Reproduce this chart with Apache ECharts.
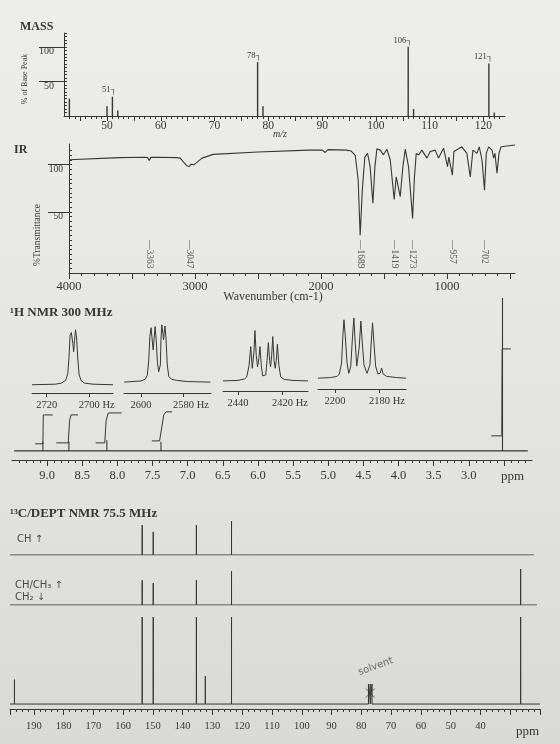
<!DOCTYPE html>
<html>
<head>
<meta charset="utf-8">
<script src="https://cdn.jsdelivr.net/npm/echarts@6.0.0/dist/echarts.min.js"></script>
<style>
html, body { margin: 0; padding: 0; }
body { background: linear-gradient(to bottom, #ededeb 0%, #e5e5e3 50%, #d9d9d6 100%); }
#main { width: 560px; height: 744px; }
</style>
</head>
<body>
<div id="main"></div>
<script>
// ---- MASS ----
var massMz = [43, 50, 51, 52, 78, 79, 106, 107, 121, 122];
var massPct = [25, 14, 28, 8, 78, 14, 100, 10, 76, 5];
var massLabeled = [51, 78, 106, 121];
var massTickLabels = [50, 60, 70, 80, 90, 100, 110, 120];
var pctTickLabels = [50, 100];

// ---- IR ----
var irWave = [4000,3600,3400,3375,3363,3350,3300,3150,3118,3085,3065,3047,3030,3010,2990,2944,2856,2500,2100,1990,
  1967,1945,1800,1760,1728,1705,1689,1672,1652,1630,1610,1588,1572,1556,1530,1504,1477,1450,1419,1403,
  1371,1350,1331,1305,1273,1258,1244,1225,1199,1159,1133,1093,1067,1027,996,985,957,945,882,842,
  815,794,762,744,722,702,688,669,642,630,619,603,587,571,460];
var irTrans = [105.2,107.5,108,107.5,104.5,107.8,108,107.5,107,102,99,98,100.5,100,102,107,111,113.5,115.5,115.5,
  113,116,115.5,114.5,110,84,25,73,108,112,98,59,98,117,115.5,110.5,116.5,105,63,87,
  66,98,116.5,98,43,87,112,110.5,115.5,107,114,115.5,107,117.5,98,108,89,114,119,112,
  87,115.5,112,119,105,73,112,119,115.5,107,112,91,112,119,121];
var irPeakLabels = [3363, 3047, 1689, 1419, 1273, 957, 702];
var irTickLabels = [4000, 3000, 2000, 1000];
var transTickLabels = [50, 100];

// ---- 1H expansions (Hz, relative intensity) ----
var ins1Hz = [2727,2716,2713,2711,2710,2709.4,2708.9,2708.3,2707.6,2707.2,2706.8,2706.3,2705.8,2705.2,2704.6,2703.6,2702,2698,2688.5];
var ins1I  = [0,0.01,0.03,0.08,0.2,0.5,0.9,0.95,0.75,0.6,0.8,1.0,0.85,0.45,0.18,0.07,0.03,0.01,0];
var ins2Hz = [2608,2600,2598,2597,2596.3,2595.8,2595.2,2594.6,2594.2,2593.8,2593.3,2592.8,2592.2,2591.6,2591.2,
  2590.8,2590.5,2590.1,2589.6,2589.3,2589.0,2588.6,2588.1,2587.5,2586.8,2585.5,2583,2578,2567];
var ins2I  = [0,0.02,0.05,0.12,0.4,0.8,0.95,0.7,0.56,0.75,0.97,0.75,0.35,0.18,0.16,
  0.3,0.75,1.0,0.85,0.74,0.85,0.98,0.75,0.3,0.1,0.05,0.03,0.01,0];
var ins3Hz = [2446.8,2440,2437,2436,2435,2434.2,2433.5,2433.1,2432.7,2432.3,2431.7,2431.1,2430.5,2430.0,2429.4,
  2428.8,2428.1,2427.4,2426.8,2426.2,2425.6,2425.2,2424.7,2424.2,2423.6,2423.1,2422.6,2422.1,2421.4,2420.6,2419,2415,2408.2];
var ins3I  = [0,0.01,0.04,0.08,0.3,0.68,0.25,0.22,0.6,1.0,0.5,0.28,0.45,0.68,0.3,
  0.1,0.07,0.12,0.4,0.76,0.4,0.28,0.5,0.88,0.4,0.25,0.4,0.73,0.3,0.08,0.03,0.01,0];
var ins4Hz = [2207.7,2202,2199,2198,2197,2196.4,2195.9,2195.3,2194.5,2193.7,2192.8,2192,2191.4,2190.8,2190.1,
  2189.6,2189,2188.2,2187.6,2186.8,2185.4,2184.1,2183.5,2182.9,2182.3,2181.5,2180.5,2179.5,2178.8,2178.1,2176.5,2172,2167.7];
var ins4I  = [0,0.01,0.03,0.07,0.25,0.7,0.97,0.7,0.25,0.08,0.2,0.7,1.0,0.6,0.2,
  0.17,0.5,0.95,0.6,0.22,0.08,0.22,0.6,0.92,0.6,0.2,0.07,0.08,0.17,0.07,0.03,0.01,0];
var insetTicks = [[2720, 2700], [2600, 2580], [2440, 2420], [2200, 2180]];

// ---- 1H spectrum (ppm) ----
var hShift = [9.06, 8.69, 8.15, 7.38, 2.52];
var hHeight = [6, 6, 7, 6, 100];
var hInt1 = [[9.17,4.6],[9.06,4.6],[9.055,23.5],[8.92,23.5]];
var hInt2 = [[8.87,5.2],[8.70,5.2],[8.68,20],[8.66,23.5],[8.56,23.5]];
var hInt3 = [[8.31,5.2],[8.18,5.2],[8.16,20],[8.13,24.8],[7.94,24.8]];
var hInt4 = [[7.51,6.5],[7.40,6.5],[7.37,15],[7.34,23.5],[7.31,25.5],[7.22,25.5]];
var hInt5 = [[2.68,9.8],[2.53,9.8],[2.525,66.7],[2.40,66.7]];
var ppmTickLabels = [9.0, 8.5, 8.0, 7.5, 7.0, 6.5, 6.0, 5.5, 5.0, 4.5, 4.0, 3.5, 3.0];

// ---- 13C / DEPT (ppm) ----
var dept90Shift = [153.6, 149.9, 135.4, 123.6];
var dept90Height = [0.88, 0.68, 0.88, 1.0];
var dept135Shift = [153.6, 149.9, 135.4, 123.6, 26.5];
var dept135Height = [0.69, 0.61, 0.69, 0.94, 1.0];
var cShift = [196.5, 153.6, 149.9, 135.4, 132.4, 123.6, 26.5];
var cHeight = [0.28, 1, 1, 1, 0.32, 1, 1];
var solventShift = [77.6, 77.0, 76.4];
var solventHeight = [0.23, 0.23, 0.23];

var ink = '#363636';
var serif = '"Liberation Serif", "DejaVu Serif", serif';
var hand = '"DejaVu Sans", sans-serif';

function range(a, b, step) {
  var out = [];
  for (var v = a; v <= b + step / 2; v += step) out.push(Math.round(v * 1000) / 1000);
  return out;
}
function pairs(xs, ys) {
  return xs.map(function (x, i) { return [x, ys[i]]; });
}
// stick spectrum: baseline with a vertical line at every shift
function sticks(start, end, shifts, heights) {
  var idx = shifts.map(function (s, i) { return i; });
  idx.sort(function (a, b) { return shifts[b] - shifts[a]; });
  var pts = [[start, 0]];
  idx.forEach(function (i) {
    pts.push([shifts[i], 0], [shifts[i], heights[i]], [shifts[i], 0]);
  });
  pts.push([end, 0]);
  return pts;
}
var line = { color: ink, width: 1 };
function axis(o) {
  return Object.assign({
    type: 'value', splitLine: { show: false }, axisLine: { show: false, onZero: false },
    axisTick: { show: false }, axisLabel: { show: false }
  }, o);
}
var shownLine = { show: true, onZero: false, lineStyle: line };
function lbl(size, extra) {
  return Object.assign({ show: true, color: ink, fontFamily: serif, fontSize: size,
    formatter: function (v) { return String(v); } }, extra || {});
}
function ppmName(gap, pad) {
  return { name: 'ppm', nameLocation: 'start', nameGap: gap,
    nameTextStyle: { color: ink, fontFamily: serif, fontSize: 13, align: 'right', verticalAlign: 'top', padding: [pad, 0, 0, 0] } };
}

var insetGrids = [
  { left: 32, top: 327, width: 81, height: 66 },
  { left: 124, top: 322, width: 87, height: 71 },
  { left: 223, top: 328, width: 85, height: 63 },
  { left: 318, top: 315, width: 88, height: 74 }
];
var insetRanges = [[2688.5, 2727], [2566.7, 2608.1], [2408.2, 2446.8], [2167.7, 2207.7]];
var insetYMin = [-0.15, -0.19, -0.2, -0.18];
var insetData = [pairs(ins1Hz, ins1I), pairs(ins2Hz, ins2I), pairs(ins3Hz, ins3I), pairs(ins4Hz, ins4I)];

var grids = [
  { left: 64, top: 33, width: 441, height: 83 },     // mass
  { left: 69, top: 144, width: 446, height: 129 }    // IR
].concat(insetGrids).concat([
  { left: 12, top: 298, width: 520, height: 162 },   // 1H
  { left: 10, top: 521, width: 530, height: 34 },    // DEPT-90
  { left: 10, top: 569, width: 530, height: 36 },    // DEPT-135
  { left: 10, top: 617, width: 530, height: 92 }     // 13C
]);

var xAxes = [
  axis({ gridIndex: 0, position: 'bottom', min: 42, max: 124, axisLine: shownLine,
    axisTick: { show: true, customValues: range(45, 120, 5), length: 5, lineStyle: line },
    axisLabel: lbl(11.5, { customValues: massTickLabels, margin: 4 }) }),
  axis({ gridIndex: 0, position: 'bottom', min: 42, max: 124,
    axisTick: { show: true, customValues: range(43, 123, 1), length: 3, lineStyle: line } }),
  axis({ gridIndex: 1, position: 'bottom', min: 460, max: 4000, inverse: true, axisLine: shownLine,
    axisTick: { show: true, customValues: range(500, 4000, 500), length: 6, lineStyle: line },
    axisLabel: lbl(12.5, { customValues: irTickLabels, margin: 7 }) }),
  axis({ gridIndex: 1, position: 'bottom', min: 460, max: 4000, inverse: true,
    axisTick: { show: true, customValues: range(500, 3900, 100), length: 3, lineStyle: line } })
];
insetTicks.forEach(function (t, k) {
  xAxes.push(axis({ gridIndex: 2 + k, position: 'bottom', min: insetRanges[k][0], max: insetRanges[k][1], inverse: true,
    axisLine: shownLine,
    axisTick: { show: true, customValues: t, length: 4, lineStyle: line },
    axisLabel: lbl(10.5, { customValues: t, margin: 7,
      formatter: function (v) { return v === t[1] ? '{h|' + v + ' Hz}' : String(v); },
      rich: { h: { fontSize: 10.5, fontFamily: serif, color: ink, padding: [0, 0, 0, 16] } } }) }));
});
xAxes.push(
  axis(Object.assign({ gridIndex: 6, position: 'bottom', min: 2.1, max: 9.5, inverse: true, axisLine: shownLine,
    axisTick: { show: true, customValues: range(2.5, 9.0, 0.5), length: 6, lineStyle: line },
    axisLabel: lbl(12.5, { customValues: ppmTickLabels, margin: 9, formatter: function (v) { return v.toFixed(1); } }) },
    ppmName(-8, 10))),
  axis({ gridIndex: 6, position: 'bottom', min: 2.1, max: 9.5, inverse: true,
    axisTick: { show: true, customValues: range(2.2, 9.4, 0.1), length: 3, lineStyle: line } }),
  axis({ gridIndex: 7, min: 20, max: 198, inverse: true, show: false }),
  axis({ gridIndex: 8, min: 20, max: 198, inverse: true, show: false }),
  axis(Object.assign({ gridIndex: 9, position: 'bottom', min: 20, max: 198, inverse: true, interval: 10, axisLine: shownLine,
    axisTick: { show: true, length: 6, lineStyle: line },
    minorTick: { show: true, splitNumber: 5, length: 3, lineStyle: line },
    axisLabel: lbl(10.5, { margin: 12, showMinLabel: false, showMaxLabel: false,
      formatter: function (v) { return (v >= 40 && v <= 190) ? String(v) : ''; } }) },
    ppmName(-1, 16)))
);

var yAxes = [
  axis({ gridIndex: 0, position: 'left', min: 0, max: 120, axisLine: shownLine,
    axisTick: { show: true, customValues: pctTickLabels, length: 25, lineStyle: line },
    axisLabel: lbl(10, { customValues: pctTickLabels, margin: 10, verticalAlign: 'top' }) }),
  axis({ gridIndex: 0, position: 'left', min: 0, max: 120,
    axisTick: { show: true, inside: true, customValues: range(5, 120, 5), length: 3, lineStyle: line } }),
  axis({ gridIndex: 1, position: 'left', min: -15, max: 122, axisLine: shownLine,
    axisTick: { show: true, customValues: transTickLabels, length: 21, lineStyle: line },
    axisLabel: lbl(9.5, { customValues: transTickLabels, margin: 6, verticalAlign: 'top' }) }),
  axis({ gridIndex: 1, position: 'left', min: -15, max: 122,
    axisTick: { show: true, inside: true, customValues: range(-10, 115, 5), length: 3, lineStyle: line } })
];
insetYMin.forEach(function (m, k) {
  yAxes.push(axis({ gridIndex: 2 + k, min: m, max: 1.05, show: false }));
});
yAxes.push(
  axis({ gridIndex: 6, min: -6, max: 100, show: false }),
  axis({ gridIndex: 7, min: 0, max: 1, show: false }),
  axis({ gridIndex: 8, min: 0, max: 1, show: false }),
  axis({ gridIndex: 9, min: -0.057, max: 1, show: false })
);

function trace(xi, yi, data, w) {
  return { type: 'line', xAxisIndex: xi, yAxisIndex: yi, data: data, showSymbol: false,
    lineStyle: { color: ink, width: w || 1 }, silent: true };
}

var series = [
  { type: 'bar', xAxisIndex: 0, yAxisIndex: 0, barWidth: 1.4, itemStyle: { color: ink },
    data: massMz.map(function (m, i) {
      return { value: [m, massPct[i]], label: { show: massLabeled.indexOf(m) >= 0 } };
    }),
    label: { position: 'top', distance: 2, align: 'right', offset: [4, 0], color: ink,
      fontFamily: '"Liberation Serif", "DejaVu Sans", serif', fontSize: 8.5,
      formatter: function (p) { return p.value[0] + '┐'; } } },
  trace(2, 2, pairs(irWave, irTrans), 1.1),
  { type: 'scatter', xAxisIndex: 2, yAxisIndex: 2, symbolSize: 0, silent: true,
    itemStyle: { color: ink },
    data: irPeakLabels.map(function (w) { return [w, 20]; }),
    label: { show: true, position: 'inside', rotate: -90, align: 'left', verticalAlign: 'middle',
      color: ink, textBorderWidth: 0, fontFamily: serif, fontSize: 9.5,
      formatter: function (p) { return '—' + p.value[0]; } } }
];
insetData.forEach(function (d, k) { series.push(trace(4 + k, 4 + k, d, 1)); });
series.push(
  trace(8, 8, sticks(9.47, 2.16, hShift, hHeight), 1.1),
  trace(8, 8, hInt1), trace(8, 8, hInt2), trace(8, 8, hInt3), trace(8, 8, hInt4), trace(8, 8, hInt5),
  trace(10, 9, sticks(198, 22, dept90Shift, dept90Height), 1),
  trace(11, 10, sticks(198, 21, dept135Shift, dept135Height), 1),
  trace(12, 11, sticks(198, 20, cShift.concat(solventShift), cHeight.concat(solventHeight)), 1),
  { type: 'scatter', xAxisIndex: 12, yAxisIndex: 11, silent: true,
    data: [[solventShift[1], solventHeight[1] * 0.55]],
    symbol: 'path://M0,0L10,10M10,0L0,10', symbolSize: 9,
    itemStyle: { color: 'none', borderColor: '#4a4a4a', borderWidth: 1 },
    label: { show: true, formatter: 'solvent', position: 'top', distance: 8, offset: [9, -4], rotate: 20,
      color: '#4a4a4a', textBorderWidth: 0, fontFamily: hand, fontSize: 10 } }
);

var option = {
  animation: false,
  backgroundColor: 'transparent',
  grid: grids,
  xAxis: xAxes,
  yAxis: yAxes,
  series: series,
  graphic: [
    { type: 'text', left: 20, top: 21, style: { text: 'MASS', font: 'bold 12px ' + serif, fill: ink } },
    { type: 'text', x: 25, y: 79, rotation: Math.PI / 2,
      style: { text: '% of Base Peak', font: '8px ' + serif, fill: ink, align: 'center', verticalAlign: 'middle' } },
    { type: 'text', x: 280, y: 134,
      style: { text: 'm/z', font: 'italic 10px ' + serif, fill: ink, align: 'center', verticalAlign: 'middle' } },
    { type: 'text', left: 14, top: 144, style: { text: 'IR', font: 'bold 12px ' + serif, fill: ink } },
    { type: 'text', x: 37, y: 235, rotation: Math.PI / 2,
      style: { text: '%Transmittance', font: '9.5px ' + serif, fill: ink, align: 'center', verticalAlign: 'middle' } },
    { type: 'text', x: 273, y: 297,
      style: { text: 'Wavenumber (cm-1)', font: '12px ' + serif, fill: ink, align: 'center', verticalAlign: 'middle' } },
    { type: 'text', left: 10, top: 306, style: { text: '¹H NMR 300 MHz', font: 'bold 13px ' + serif, fill: ink } },
    { type: 'text', left: 10, top: 507, style: { text: '¹³C/DEPT NMR 75.5 MHz', font: 'bold 13px ' + serif, fill: ink } },
    { type: 'text', left: 17, top: 534, style: { text: 'CH ↑', font: '10px ' + hand, fill: '#4a4a4a' } },
    { type: 'text', left: 15, top: 580, style: { text: 'CH/CH₃ ↑', font: '10px ' + hand, fill: '#4a4a4a' } },
    { type: 'text', left: 15, top: 592, style: { text: 'CH₂ ↓', font: '10px ' + hand, fill: '#4a4a4a' } }
  ]
};

var chart = echarts.init(document.getElementById('main'));
chart.setOption(option);
</script>
</body>
</html>
